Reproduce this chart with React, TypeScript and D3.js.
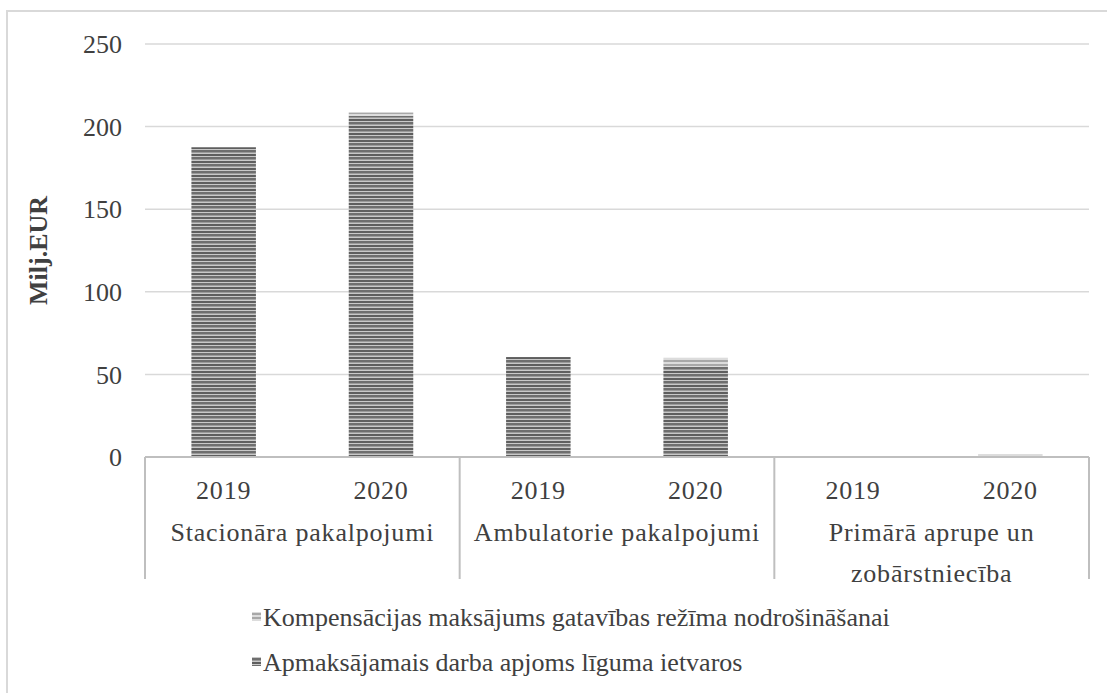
import React from "react";
import * as d3 from "d3";

const groups = ["Stacionāra pakalpojumi", "Ambulatorie pakalpojumi", "Primārā aprupe un zobārstniecība"];
const groupLines = [["Stacionāra pakalpojumi"], ["Ambulatorie pakalpojumi"], ["Primārā aprupe un", "zobārstniecība"]];
const years = ["2019", "2020"];
const apmaksajamais = [187.5, 206.5, 60.5, 54.5, 0.3, 0.5];
const kompensacijas = [0, 2.0, 0, 5.5, 0, 1.3];
const yTicks = [0, 50, 100, 150, 200, 250];
const legendLabels = ["Kompensācijas maksājums gatavības režīma nodrošināšanai", "Apmaksājamais darba apjoms līguma ietvaros"];

const W = 1107, H = 693;
const left = 145, right = 1089, top = 44, bottom = 457;
const FONT = "'Liberation Serif', 'DejaVu Serif', serif";
const FS = 26;

export default function App() {
  const y = d3.scaleLinear().domain([0, 250]).range([bottom, top]);
  const xg = d3.scaleBand().domain(groups).range([left, right]).padding(0);
  const xs = d3.scaleBand().domain(years).range([0, xg.bandwidth()]).paddingInner(0.59).paddingOuter(0.295);
  const bars: any[] = [];
  groups.forEach((g, gi) => {
    years.forEach((yr, yi) => {
      const i = gi * 2 + yi;
      const x0 = (xg(g) as number) + (xs(yr) as number);
      const a = apmaksajamais[i], k = kompensacijas[i];
      bars.push(<rect key={"a" + i} x={x0} width={xs.bandwidth()} y={y(a)} height={y(0) - y(a)} fill="url(#pDark)" />);
      if (k > 0) bars.push(<rect key={"k" + i} x={x0} width={xs.bandwidth()} y={y(a + k)} height={y(a) - y(a + k)} fill="url(#pLight)" />);
    });
  });
  const bounds = [...groups.map((g) => xg(g) as number), right];
  const ts = { fontFamily: FONT, fontSize: FS } as any;
  const tsCat = { fontFamily: FONT, fontSize: FS, letterSpacing: 0.8 } as any;
  return (
    <svg width={W} height={H} style={{ position: "absolute", left: 0, top: 0 }}>
      <defs>
        <pattern id="pDark" width="8" height="7" patternUnits="userSpaceOnUse">
          <rect width="8" height="7" fill="#c8c8c8" />
          <rect y="0" width="8" height="2" fill="#5e5e5e" />
          <rect y="3" width="8" height="2" fill="#6e6e6e" />
          <rect y="5" width="8" height="1" fill="#9a9a9a" />
        </pattern>
        <pattern id="pLight" width="8" height="4" patternUnits="userSpaceOnUse">
          <rect width="8" height="4" fill="#dcdcdc" />
          <rect y="0" width="8" height="2" fill="#a8a8a8" />
        </pattern>
      </defs>
      <rect x={7} y={11} width={W + 10} height={H + 10} fill="white" stroke="#d9d9d9" strokeWidth={2} />
      {yTicks.map((t) => (
        <g key={t}>
          {t > 0 && <line x1={left} x2={right} y1={y(t)} y2={y(t)} stroke="#d9d9d9" strokeWidth={1.5} />}
          <text x={122} y={y(t)} dy="0.35em" textAnchor="end" style={ts} fill="#404040">{t}</text>
        </g>
      ))}
      {bars}
      <line x1={left} x2={right} y1={bottom} y2={bottom} stroke="#bfbfbf" strokeWidth={2} />
      {bounds.map((b, i) => (
        <line key={i} x1={b} x2={b} y1={bottom} y2={579} stroke="#bfbfbf" strokeWidth={2} />
      ))}
      {groups.map((g, gi) => (
        <g key={g}>
          {years.map((yr) => (
            <text key={yr} x={(xg(g) as number) + (xs(yr) as number) + xs.bandwidth() / 2} y={490} dy="0.35em" textAnchor="middle" style={tsCat} fill="#404040">{yr}</text>
          ))}
          {groupLines[gi].map((ln, li) => (
            <text key={li} x={(xg(g) as number) + xg.bandwidth() / 2} y={532 + li * 41} dy="0.35em" textAnchor="middle" style={tsCat} fill="#404040">{ln}</text>
          ))}
        </g>
      ))}
      <text transform={`translate(38,${(top + bottom) / 2}) rotate(-90)`} textAnchor="middle" dy="0.35em" style={ts} fontWeight="bold" fill="#404040">Milj.EUR</text>
      {legendLabels.map((l, i) => (
        <g key={l} transform={`translate(252,${617 + i * 45})`}>
          <rect x={0} y={-5} width={9} height={9} fill={i === 0 ? "url(#pLight)" : "url(#pDark)"} />
          <text x={11} y={0} dy="0.35em" style={ts} fill="#404040">{l}</text>
        </g>
      ))}
    </svg>
  );
}
